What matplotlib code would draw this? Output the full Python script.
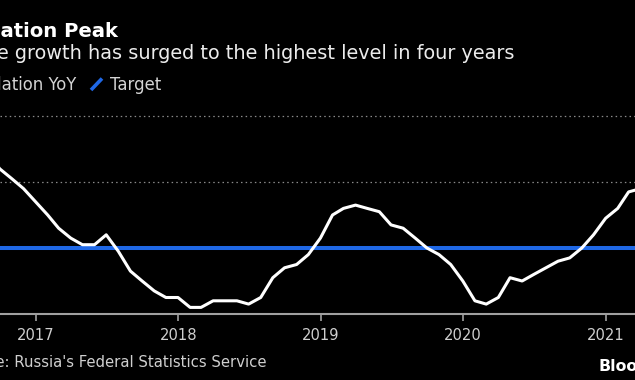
import matplotlib
matplotlib.use("Agg")
import matplotlib.pyplot as plt
import matplotlib.dates as mdates
from matplotlib.lines import Line2D
import pandas as pd

# ---- data ----
start_month = "2016-07"
end_month = "2021-03"
inflation_yoy = [
    7.2, 6.9, 6.4, 6.1, 5.8, 5.4,                                # 2016 Jul-Dec
    5.0, 4.6, 4.3, 4.1, 4.1, 4.4, 3.9, 3.3, 3.0, 2.7, 2.5, 2.5,  # 2017
    2.2, 2.2, 2.4, 2.4, 2.4, 2.3, 2.5, 3.1, 3.4, 3.5, 3.8, 4.3,  # 2018
    5.0, 5.2, 5.3, 5.2, 5.1, 4.7, 4.6, 4.3, 4.0, 3.8, 3.5, 3.0,  # 2019
    2.4, 2.3, 2.5, 3.1, 3.0, 3.2, 3.4, 3.6, 3.7, 4.0, 4.4, 4.9,  # 2020
    5.2, 5.7, 5.8,                                               # 2021
]
target = 4.0
tick_years = ["2017", "2018", "2019", "2020", "2021"]
title = "Inflation Peak"
subtitle = "Price growth has surged to the highest level in four years"
legend_labels = ["Inflation YoY", "Target"]
source = "Source: Russia's Federal Statistics Service"
brand = "Bloomberg"

dates = pd.date_range(start_month, periods=len(inflation_yoy), freq="ME")

W, H = 635, 380
fig = plt.figure(figsize=(W / 100, H / 100), dpi=100, facecolor="black")

# axes geometry (pixels)
y_bottom_px = 314.0   # 2%
px_per_pct = 33.0
ymin, ymax = 2.0, 8.5
ax = fig.add_axes([0, (H - y_bottom_px) / H, 1, (ymax - ymin) * px_per_pct / H])
ax.set_facecolor("black")

# x mapping: 2017 tick at px 36, 2021 tick at px 606
d0 = mdates.date2num(pd.Timestamp("2017-01-01"))
d1 = mdates.date2num(pd.Timestamp("2021-01-01"))
ppd = (606 - 36) / (d1 - d0)
ax.set_xlim(d0 - 36 / ppd, d0 + (W - 36) / ppd)
ax.set_ylim(ymin, ymax)

for g in [6, 8]:
    ax.axhline(g, color="#8a8a8a", lw=0.9, ls=(0, (1.2, 2.5)), zorder=1)

ax.axhline(target, color="#1f68e6", lw=2.9, zorder=2, solid_capstyle="butt")
ax.plot(mdates.date2num(dates), inflation_yoy, color="white", lw=2.2, zorder=3,
        solid_joinstyle="round")

ticks = [mdates.date2num(pd.Timestamp(f"{y}-01-01")) for y in tick_years]
ax.set_xticks(ticks)
ax.set_xticklabels(tick_years)
ax.set_yticks([])
for s in ["top", "left", "right"]:
    ax.spines[s].set_visible(False)
ax.spines["bottom"].set_color("#a0a0a0")
ax.spines["bottom"].set_linewidth(1.5)
ax.tick_params(axis="x", direction="out", length=5, width=1.2, color="#a0a0a0",
               labelcolor="#cfcfcf", labelsize=10.6, pad=5)


def fx(px):
    return px / W


def fy(py):
    return 1 - py / H


# texts right-aligned at the visible end (left portion is cropped by the canvas)
fig.text(fx(118), fy(37.3), title, ha="right", va="baseline", color="white",
         fontsize=14.1, fontweight="bold")
fig.text(fx(515), fy(59.3), subtitle, ha="right", va="baseline", color="#ececec",
         fontsize=13.85)
fig.text(fx(76), fy(90), legend_labels[0], ha="right", va="baseline",
         color="#d4d4d4", fontsize=11.9)
fig.add_artist(Line2D([fx(91), fx(102)], [fy(90), fy(78.5)], color="#1f68e6",
                      lw=2.6, transform=fig.transFigure, solid_capstyle="butt"))
fig.text(fx(110), fy(90), legend_labels[1], ha="left", va="baseline",
         color="#d4d4d4", fontsize=11.9)
fig.text(fx(266.7), fy(366.7), source, ha="right", va="baseline",
         color="#cfcfcf", fontsize=10.7)
fig.text(fx(598), fy(370.7), brand, ha="left", va="baseline", color="white",
         fontsize=11.3, fontweight="bold", family="DejaVu Sans")

fig.savefig("out.png", dpi=100, facecolor="black")
